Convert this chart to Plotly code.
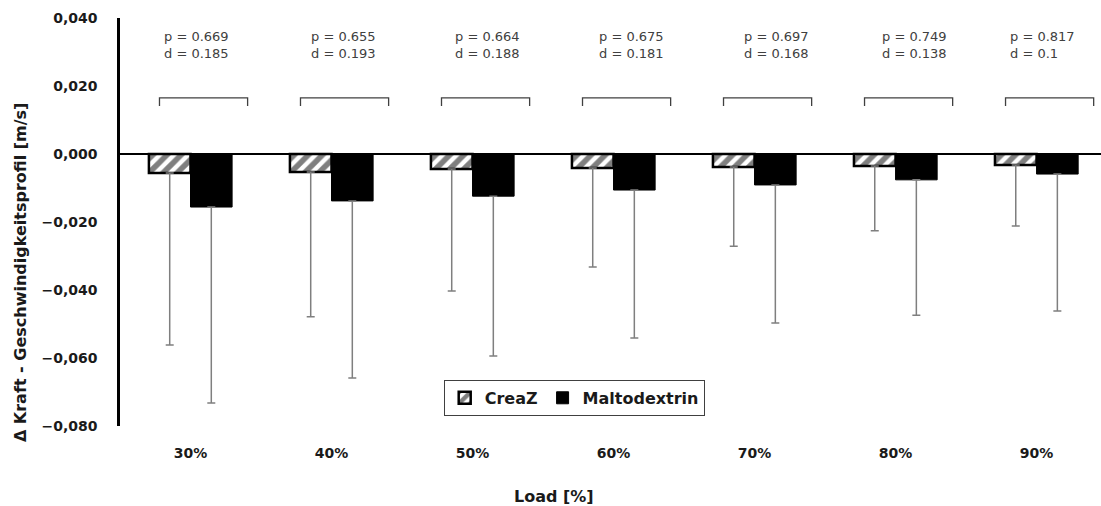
import plotly.graph_objects as go

# Load levels on the x axis
loads = ["30%", "40%", "50%", "60%", "70%", "80%", "90%"]

# Mean change in force-velocity profile [m/s]
creaz_mean = [-0.0056, -0.0053, -0.0044, -0.0041, -0.0038, -0.0035, -0.0032]
malto_mean = [-0.0156, -0.0138, -0.0124, -0.0106, -0.0091, -0.0076, -0.0059]

# Standard deviations (drawn downward only)
creaz_sd = [0.0506, 0.0426, 0.0359, 0.0291, 0.0233, 0.0191, 0.0180]
malto_sd = [0.0576, 0.0521, 0.0470, 0.0435, 0.0406, 0.0398, 0.0403]

# Group comparison statistics
p_values = ["0.669", "0.655", "0.664", "0.675", "0.697", "0.749", "0.817"]
d_values = ["0.185", "0.193", "0.188", "0.181", "0.168", "0.138", "0.1"]

# Horizontal placement of each statistics label (in category units)
label_shift = [-0.20, -0.16, -0.14, -0.12, -0.09, -0.11, -0.20]

xpos = list(range(len(loads)))
BOLD = "DejaVu Sans"
TXT = "#404040"
DARK = "#1a1a1a"

fig = go.Figure()

fig.add_trace(go.Bar(
    name="<b>CreaZ</b>",
    x=xpos,
    y=creaz_mean,
    marker=dict(
        color="white",
        line=dict(color="black", width=2.5),
        pattern=dict(shape="/", fgcolor="black", bgcolor="white",
                     size=10, solidity=0.55),
    ),
    error_y=dict(type="data", symmetric=False,
                 array=[0] * len(creaz_sd), arrayminus=creaz_sd,
                 color="#7f7f7f", thickness=1.5, width=4),
))

fig.add_trace(go.Bar(
    name="<b>Maltodextrin</b>",
    x=xpos,
    y=malto_mean,
    marker=dict(color="black", line=dict(color="black", width=1)),
    error_y=dict(type="data", symmetric=False,
                 array=[0] * len(malto_sd), arrayminus=malto_sd,
                 color="#7f7f7f", thickness=1.5, width=4),
))

# Comparison brackets and p / d labels above each load group
for i in xpos:
    x0, x1 = i - 0.22, i + 0.405
    fig.add_shape(
        type="path",
        path=f"M {x0},0.0141 L {x0},0.0165 L {x1},0.0165 L {x1},0.0141",
        xref="x", yref="y",
        line=dict(color="#404040", width=1.3),
    )
    fig.add_annotation(
        x=i + label_shift[i], y=0.0321, xref="x", yref="y",
        text=f"p = {p_values[i]}<br>d = {d_values[i]}",
        showarrow=False, xanchor="left", yanchor="middle", align="left",
        font=dict(family="DejaVu Sans", size=13, color=TXT),
    )

# Axis titles
fig.add_annotation(
    x=-0.102, y=0.377, xref="paper", yref="paper",
    text="<b>Δ Kraft - Geschwindigkeitsprofil [m/s]</b>",
    textangle=-90, showarrow=False, xanchor="center", yanchor="middle",
    font=dict(family=BOLD, size=16, color=DARK),
)
fig.add_annotation(
    x=0.442, y=-0.172, xref="paper", yref="paper",
    text="<b>Load [%]</b>", showarrow=False,
    xanchor="center", yanchor="middle",
    font=dict(family=BOLD, size=16, color=DARK),
)

fig.update_layout(
    width=1101, height=506,
    margin=dict(l=120, r=0, t=18, b=80),
    plot_bgcolor="white", paper_bgcolor="white",
    barmode="group", bargap=0.41, bargroupgap=0,
    separators=",.",
    showlegend=True,
    legend=dict(
        orientation="h", x=0.463, y=0.113, xanchor="center", yanchor="top",
        bordercolor="#404040", borderwidth=1, bgcolor="white",
        font=dict(family=BOLD, size=16, color=DARK),
        itemwidth=30, tracegroupgap=0,
    ),
    xaxis=dict(
        range=[-0.5, 6.457],
        tickvals=xpos, ticktext=[f"<b>{t}</b>" for t in loads],
        showline=False, showgrid=False, zeroline=False, ticks="",
        ticklabelstandoff=17,
        tickfont=dict(family=BOLD, size=14, color=DARK),
    ),
    yaxis=dict(
        range=[-0.08, 0.04], dtick=0.02, tickformat=".3f",
        showline=True, linecolor="black", linewidth=2.5,
        showgrid=False,
        zeroline=True, zerolinecolor="black", zerolinewidth=2,
        ticks="", ticklabelstandoff=17,
        tickprefix="<b>", ticksuffix="</b>",
        tickfont=dict(family=BOLD, size=14, color=DARK),
    ),
)

fig.write_html("out.html")
